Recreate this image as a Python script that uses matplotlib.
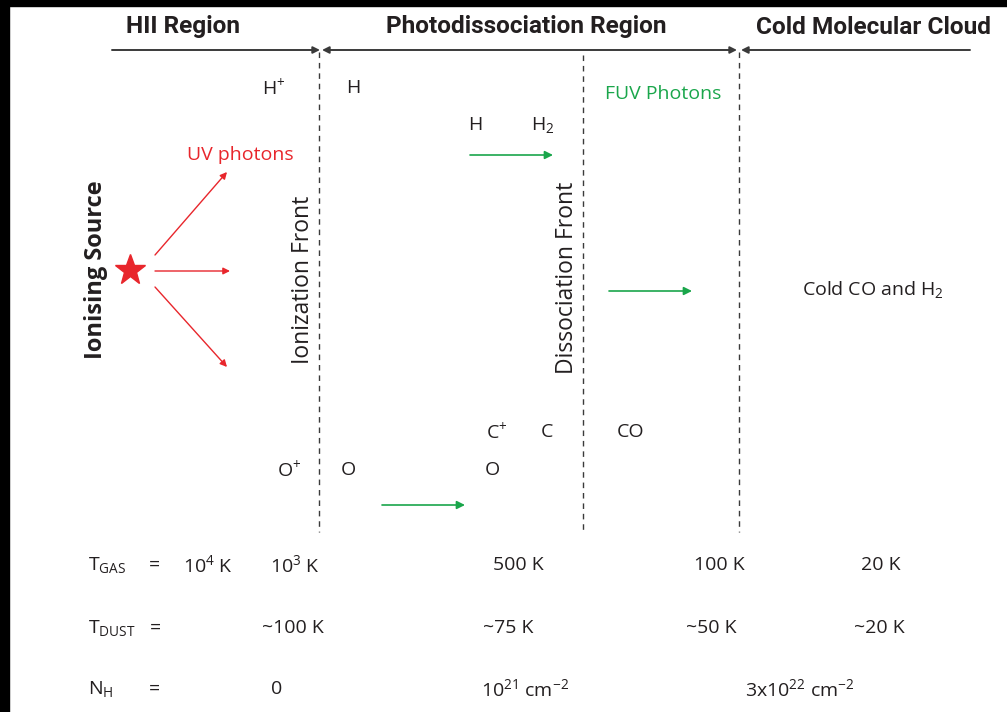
import matplotlib
matplotlib.use("Agg")
import matplotlib.pyplot as plt
from matplotlib.patches import Rectangle, FancyArrowPatch
from matplotlib import font_manager

plt.rcParams['font.family'] = ['Open Sans', 'DejaVu Sans']
plt.rcParams['mathtext.fontset'] = 'custom'
plt.rcParams['mathtext.rm'] = 'Open Sans'
plt.rcParams['mathtext.it'] = 'Open Sans'
plt.rcParams['mathtext.default'] = 'rm'

# ---- content ----
region_names = ["HII Region", "Photodissociation Region", "Cold Molecular Cloud"]
front_names = ["Ionization Front", "Dissociation Front"]
source_label = "Ionising Source"
uv_label = "UV photons"
fuv_label = "FUV Photons"
species_top = ["H$^{+}$", "H", "H", "H$_{2}$"]
species_bottom = ["C$^{+}$", "C", "CO", "O$^{+}$", "O", "O"]
cloud_label = "Cold CO and H$_{2}$"
row_labels = ["T$_{GAS}$", "T$_{DUST}$", "N$_{H}$"]
tgas_values = ["10$^{4}$ K", "10$^{3}$ K", "500 K", "100 K", "20 K"]
tdust_values = ["~100 K", "~75 K", "~50 K", "~20 K"]
nh_values = ["0", "10$^{21}$ cm$^{-2}$", "3x10$^{22}$ cm$^{-2}$"]

# ---- layout (pixel coordinates) ----
W, H = 1007, 712
fig = plt.figure(figsize=(W / 100, H / 100), dpi=100)
ax = fig.add_axes([0, 0, 1, 1])
ax.set_xlim(0, W)
ax.set_ylim(H, 0)
ax.axis('off')

# black frame edges
ax.add_patch(Rectangle((0, 0), 9, H, color='black', zorder=5))
ax.add_patch(Rectangle((0, 0), W, 6, color='black', zorder=5))

red = '#e8262c'
green = '#1aa64b'
dark = '#231f20'
linec = '#3a3a3a'

names = {f.name for f in font_manager.fontManager.ttflist}
head_family = 'Liberation Sans Narrow' if 'Liberation Sans Narrow' in names else 'Roboto'
head_size = 17 if head_family == 'Liberation Sans Narrow' else 17.6
head_font = dict(family=[head_family, 'DejaVu Sans'], fontweight='bold',
                 fontstretch='condensed', fontsize=head_size, color=dark,
                 ha='center', va='center')
header_x = [183, 526, 873]
for name, x in zip(region_names, header_x):
    ax.text(x, 27, name, **head_font)

# header arrow line
yl = 50
def arr(x0, x1, style):
    ax.add_patch(FancyArrowPatch((x0, yl), (x1, yl), arrowstyle=style,
                                 mutation_scale=10, lw=1.4, color=linec,
                                 shrinkA=0, shrinkB=0))
arr(112, 320, '-|>')
arr(322, 737, '<|-|>')
arr(741, 970, '<|-')

# dashed fronts
front_x = [319, 583, 739]
front_top = [52, 55, 52]
for x, t in zip(front_x, front_top):
    ax.plot([x, x], [t, 532], color=linec, lw=1.0, ls=(0, (4, 3.5)))

ax.text(303, 280, front_names[0], rotation=90, fontsize=16.5, color=dark,
        ha='center', va='center')
ax.text(567, 278, front_names[1], rotation=90, fontsize=16.5, color=dark,
        ha='center', va='center')
ax.text(96, 270, source_label, rotation=90, fontsize=17, fontweight='bold',
        color=dark, ha='center', va='center')

# star and UV arrows
ax.plot([130], [270], marker='*', ms=23, color=red, mec=red)
uv_arrows = [((155, 255), (227, 172)), ((155, 271), (230, 271)), ((155, 287), (227, 367))]
for s, e in uv_arrows:
    ax.add_patch(FancyArrowPatch(s, e, arrowstyle='-|>', mutation_scale=10,
                                 lw=1.0, color=red, shrinkA=0, shrinkB=0))
ax.text(240, 155, uv_label, fontsize=14, color=red, ha='center', va='center')

# FUV arrows
fuv_arrows = [((470, 155), (553, 155)), ((609, 291), (692, 291)), ((382, 505), (465, 505))]
for s, e in fuv_arrows:
    ax.add_patch(FancyArrowPatch(s, e, arrowstyle='-|>', mutation_scale=12,
                                 lw=1.2, color=green, shrinkA=0, shrinkB=0))
ax.text(663, 94, fuv_label, fontsize=14, color=green, ha='center', va='center')

fs = 14
body = dict(fontsize=fs, color=dark, va='center')
top_pos = [(262, 88), (346, 88), (468, 125), (531, 125)]
for lab, (x, y) in zip(species_top, top_pos):
    ax.text(x, y, lab, ha='left', **body)
bot_pos = [(486, 432), (541, 432), (617, 432), (277, 470), (341, 470), (485, 470)]
for lab, (x, y) in zip(species_bottom, bot_pos):
    ax.text(x, y, lab, ha='left', **body)
ax.text(802, 290, cloud_label, ha='left', **body)

# bottom rows
row_y = [565, 628, 689]
for lab, y in zip(row_labels, row_y):
    ax.text(88, y, lab, ha='left', **body)
ax.text(149, 565, "=", ha='left', **body)
ax.text(150, 628, "=", ha='left', **body)
ax.text(149, 689, "=", ha='left', **body)

tgas_x = [208, 295, 518, 719, 881]
for lab, x in zip(tgas_values, tgas_x):
    ax.text(x, 565, lab, ha='center', **body)
tdust_x = [293, 508, 711, 879]
for lab, x in zip(tdust_values, tdust_x):
    ax.text(x, 628, lab, ha='center', **body)
nh_x = [277, 525, 800]
for lab, x in zip(nh_values, nh_x):
    ax.text(x, 689, lab, ha='center', **body)

fig.savefig("out.png", dpi=100, facecolor='white')
